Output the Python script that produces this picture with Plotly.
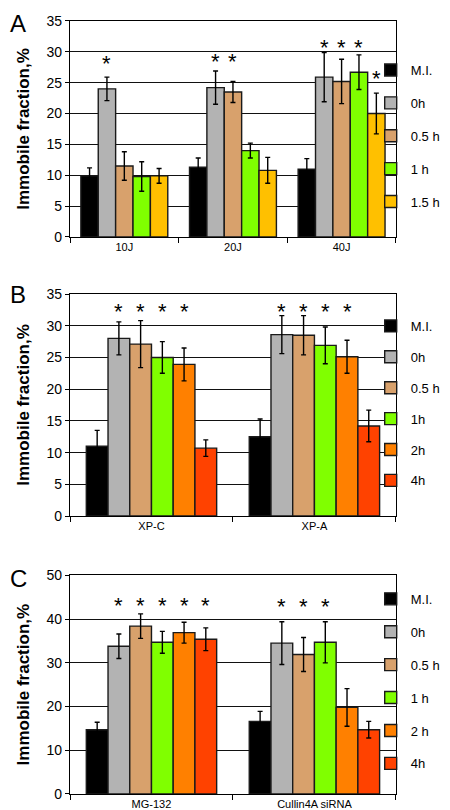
import plotly.graph_objects as go

# ---------------- data ----------------
# Panel A
a_cats = ["10J", "20J", "40J"]
a_names = ["M.I.", "0h", "0.5 h", "1 h", "1.5 h"]
a_mi = [9.9, 11.3, 11.0]
a_0h = [24.0, 24.2, 25.9]
a_05h = [11.5, 23.5, 25.2]
a_1h = [9.8, 14.0, 26.7]
a_15h = [9.9, 10.8, 20.0]
a_mi_err = [1.3, 1.5, 1.7]
a_0h_err = [1.9, 2.7, 4.0]
a_05h_err = [2.3, 1.7, 3.6]
a_1h_err = [2.4, 1.2, 2.8]
a_15h_err = [1.2, 2.1, 3.3]
# significance star levels (None = no star)
a_mi_star = [None, None, None]
a_0h_star = [28.7, 29.0, 31.4]
a_05h_star = [None, 29.0, 31.4]
a_1h_star = [None, None, 31.4]
a_15h_star = [None, None, 26.4]

# Panel B
b_cats = ["XP-C", "XP-A"]
b_names = ["M.I.", "0h", "0.5 h", "1h", "2h", "4h"]
b_mi = [11.0, 12.5]
b_0h = [28.0, 28.6]
b_05h = [27.1, 28.5]
b_1h = [25.0, 26.9]
b_2h = [23.9, 25.1]
b_4h = [10.7, 14.2]
b_mi_err = [2.5, 2.8]
b_0h_err = [2.6, 3.0]
b_05h_err = [3.7, 3.1]
b_1h_err = [2.5, 2.9]
b_2h_err = [2.6, 2.6]
b_4h_err = [1.3, 2.5]
b_mi_star = [None, None]
b_0h_star = [32.8, 32.8]
b_05h_star = [32.8, 32.8]
b_1h_star = [32.8, 32.8]
b_2h_star = [32.8, 32.8]
b_4h_star = [None, None]

# Panel C
c_cats = ["MG-132", "Cullin4A siRNA"]
c_names = ["M.I.", "0h", "0.5 h", "1 h", "2 h", "4h"]
c_mi = [14.7, 16.6]
c_0h = [33.8, 34.5]
c_05h = [38.4, 31.9]
c_1h = [34.7, 34.7]
c_2h = [36.9, 19.8]
c_4h = [35.4, 14.7]
c_mi_err = [1.7, 2.3]
c_0h_err = [2.8, 4.9]
c_05h_err = [2.8, 3.9]
c_1h_err = [2.5, 4.7]
c_2h_err = [2.4, 4.3]
c_4h_err = [2.6, 1.9]
c_mi_star = [None, None]
c_0h_star = [44.0, 43.8]
c_05h_star = [44.0, 43.8]
c_1h_star = [44.0, 43.8]
c_2h_star = [44.0, None]
c_4h_star = [44.0, None]

# ---------------- styling ----------------
COL = {
    "mi": "#000000",
    "0h": "#b3b3b3",
    "05h": "#d8a16c",
    "1h": "#80ff00",
    "15h": "#ffc000",
    "2h": "#ff8000",
    "4h": "#ff4200",
}
FONT = "Liberation Sans, Arial, Helvetica, sans-serif"
BARGAP = 0.2

panels = [
    dict(cats=a_cats, names=a_names,
         vals=[a_mi, a_0h, a_05h, a_1h, a_15h],
         errs=[a_mi_err, a_0h_err, a_05h_err, a_1h_err, a_15h_err],
         stars=[a_mi_star, a_0h_star, a_05h_star, a_1h_star, a_15h_star],
         cols=[COL["mi"], COL["0h"], COL["05h"], COL["1h"], COL["15h"]],
         yrange=[0, 35], dtick=5, dom=[0.7173, 0.984], legy=0.942, gap=13,
         letter="A", lety=1.0),
    dict(cats=b_cats, names=b_names,
         vals=[b_mi, b_0h, b_05h, b_1h, b_2h, b_4h],
         errs=[b_mi_err, b_0h_err, b_05h_err, b_1h_err, b_2h_err, b_4h_err],
         stars=[b_mi_star, b_0h_star, b_05h_star, b_1h_star, b_2h_star, b_4h_star],
         cols=[COL["mi"], COL["0h"], COL["05h"], COL["1h"], COL["2h"], COL["4h"]],
         yrange=[0, 35], dtick=5, dom=[0.3728, 0.6469], legy=0.626, gap=11,
         letter="B", lety=0.665),
    dict(cats=c_cats, names=c_names,
         vals=[c_mi, c_0h, c_05h, c_1h, c_2h, c_4h],
         errs=[c_mi_err, c_0h_err, c_05h_err, c_1h_err, c_2h_err, c_4h_err],
         stars=[c_mi_star, c_0h_star, c_05h_star, c_1h_star, c_2h_star, c_4h_star],
         cols=[COL["mi"], COL["0h"], COL["05h"], COL["1h"], COL["2h"], COL["4h"]],
         yrange=[0, 50], dtick=10, dom=[0.0297, 0.2995], legy=0.289, gap=13,
         letter="C", lety=0.315),
]

fig = go.Figure()
annotations = []
layout = dict(
    width=450, height=810,
    margin=dict(l=0, r=0, t=0, b=0, autoexpand=False),
    paper_bgcolor="white", plot_bgcolor="white",
    font=dict(family=FONT, color="black"),
    barmode="group", bargap=BARGAP, bargroupgap=0,
    showlegend=True,
)

for pi, p in enumerate(panels):
    sfx = "" if pi == 0 else str(pi + 1)
    xa, ya = "x" + sfx, "y" + sfx
    leg = "legend" + sfx
    n = len(p["names"])
    w = (1 - BARGAP) / n
    for si, name in enumerate(p["names"]):
        fig.add_trace(go.Bar(
            x=p["cats"], y=p["vals"][si], name=name,
            xaxis=xa, yaxis=ya, legend=leg, legendgroup=f"{pi}-{si}",
            marker=dict(color=p["cols"][si], line=dict(color="#1a1a1a", width=1.4)),
            error_y=dict(type="data", array=p["errs"][si], visible=True,
                         color="black", thickness=1.4, width=2.5),
        ))
        for gi, sy in enumerate(p["stars"][si]):
            if sy is None:
                continue
            annotations.append(dict(
                x=gi + (si - (n - 1) / 2) * w, y=sy, xref=xa, yref=ya,
                text="*", showarrow=False, yanchor="middle", yshift=-4,
                font=dict(size=22, family=FONT, color="black"),
            ))
    layout["xaxis" + sfx] = dict(
        domain=[0.1378, 0.862], anchor=ya, type="category",
        tickson="boundaries", ticks="outside", ticklen=5, tickwidth=1.3,
        tickcolor="black", showline=True, linecolor="black", linewidth=1.3,
        mirror=True, showgrid=False, tickfont=dict(size=11, family=FONT),
        range=[-0.5, len(p["cats"]) - 0.5], ticklabelstandoff=0,
        automargin=False,
    )
    layout["yaxis" + sfx] = dict(
        domain=p["dom"], anchor=xa, range=p["yrange"], dtick=p["dtick"],
        showgrid=True, gridcolor="#111111", gridwidth=1.3, zeroline=False,
        ticks="outside", ticklen=4, tickwidth=1.3, tickcolor="black",
        showline=True, linecolor="black", linewidth=1.3, mirror=True,
        tickfont=dict(size=14, family=FONT), automargin=False,
        title=dict(text="<b>Immobile fraction,%</b>",
                   font=dict(size=17, family=FONT), standoff=12),
    )
    layout[leg] = dict(
        x=0.806, xanchor="left", y=p["legy"], yanchor="top",
        font=dict(size=13, family=FONT), bgcolor="rgba(0,0,0,0)",
        traceorder="grouped", tracegroupgap=p["gap"], itemclick=False,
    )
    annotations.append(dict(
        x=0.0, y=p["lety"], xref="paper", yref="paper", xanchor="left",
        yanchor="top", text=p["letter"], showarrow=False,
        font=dict(size=24, family=FONT, color="black"),
    ))

layout["annotations"] = annotations
fig.update_layout(**layout)
fig.write_html("out.html")
